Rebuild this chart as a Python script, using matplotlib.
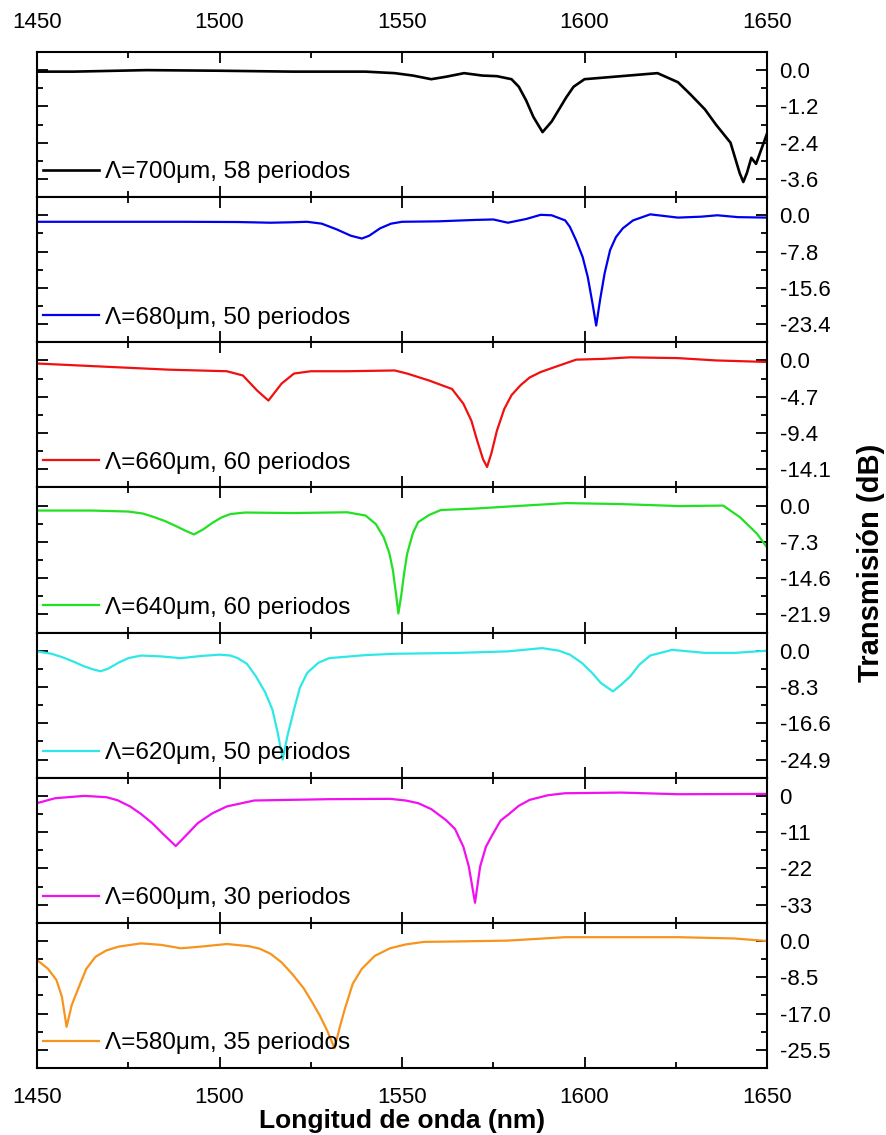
import matplotlib
matplotlib.use('Agg')
import matplotlib.pyplot as plt
from matplotlib.ticker import MultipleLocator, FixedLocator

plt.rcParams['font.family'] = ['Liberation Sans', 'DejaVu Sans']

# datos (longitud de onda en nm, transmision en dB)
wl_700 = [1450, 1460, 1480, 1500, 1520, 1540, 1548, 1553, 1558, 1562, 1567, 1572, 1576, 1580, 1582,
          1584, 1586, 1588.5, 1591, 1593, 1595, 1597, 1600, 1605, 1610, 1615, 1620, 1625.6, 1629,
          1633, 1636, 1640, 1641.5, 1642.5, 1643.5, 1644.5, 1645.7, 1647, 1648.5, 1650]
db_700 = [-0.05, -0.05, 0.0, -0.02, -0.05, -0.05, -0.1, -0.18, -0.3, -0.22, -0.1, -0.18, -0.2, -0.3, -0.55,
          -1.0, -1.55, -2.05, -1.7, -1.3, -0.9, -0.55, -0.3, -0.25, -0.2, -0.15, -0.1, -0.4, -0.8,
          -1.3, -1.8, -2.4, -3.0, -3.4, -3.7, -3.4, -2.9, -3.1, -2.6, -2.1]

wl_680 = [1450, 1470, 1490, 1505, 1514, 1520, 1524, 1528, 1532, 1536, 1539, 1541, 1544, 1547, 1550,
          1560, 1570, 1575, 1579, 1584, 1588, 1591, 1594.7, 1596, 1597.7, 1599.5, 1600.9, 1602.2, 1603.2,
          1604.3, 1605.5, 1607, 1608.6, 1610.5, 1613.3, 1618, 1625.6, 1632, 1636.4, 1642, 1650]
db_680 = [-1.4, -1.4, -1.4, -1.45, -1.6, -1.5, -1.4, -1.8, -3.0, -4.4, -5.0, -4.4, -2.8, -1.8, -1.4,
          -1.3, -1.0, -0.9, -1.6, -0.8, 0.1, 0.0, -1.1, -2.5, -5.4, -9.0, -13.3, -19.0, -23.7,
          -18.0, -12.5, -7.5, -4.7, -2.8, -1.1, 0.2, -0.5, -0.3, 0.0, -0.4, -0.5]

wl_660 = [1450, 1470.8, 1486.3, 1502, 1506.4, 1510.3, 1513.4, 1517, 1520.4, 1525, 1535, 1548, 1551.4,
          1557.4, 1563.7, 1566.8, 1569, 1570.6, 1572.2, 1573.3, 1574.5, 1576, 1578, 1580, 1582.5, 1585,
          1588, 1591.6, 1597.7, 1605, 1612.5, 1625.6, 1636, 1650]
db_660 = [-0.4, -0.86, -1.2, -1.4, -1.95, -3.9, -5.2, -3.0, -1.7, -1.4, -1.4, -1.3, -1.7,
          -2.6, -3.7, -5.6, -7.8, -10.4, -12.8, -13.8, -12.0, -9.1, -6.3, -4.5, -3.2, -2.2,
          -1.5, -0.9, 0.1, 0.2, 0.4, 0.3, 0.0, -0.2]

wl_640 = [1450, 1465, 1475, 1479, 1482, 1485, 1488, 1490.5, 1493, 1495.5, 1498, 1500.5, 1503, 1507,
          1520, 1535, 1540, 1542.8, 1545, 1546.5, 1547.5, 1548.4, 1549, 1549.8, 1550.6, 1551.4, 1553,
          1554.4, 1557.4, 1560.6, 1570, 1579, 1595, 1610, 1626, 1638, 1642.6, 1647.3, 1650]
db_640 = [-1.0, -1.0, -1.2, -1.6, -2.3, -3.1, -4.1, -5.0, -5.8, -4.8, -3.5, -2.4, -1.7, -1.4,
          -1.5, -1.35, -2.0, -3.7, -6.4, -9.5, -13.0, -18.0, -21.7, -18.0, -13.5, -9.7, -5.5,
          -3.35, -1.9, -0.9, -0.6, -0.2, 0.5, 0.3, -0.1, 0.0, -2.35, -5.7, -8.4]

wl_620 = [1450, 1454, 1457, 1460, 1463, 1465.5, 1467.4, 1469.5, 1472.4, 1475, 1478.5, 1484, 1489.4,
          1495, 1500, 1503, 1505, 1507.5, 1510, 1512.5, 1514.5, 1516, 1517.3, 1518.6, 1520.4, 1522,
          1524, 1527, 1530, 1540, 1548, 1565, 1579, 1588.4, 1593, 1596, 1599.3, 1602, 1604.5, 1607.8,
          1610, 1612.5, 1615, 1618, 1624, 1633, 1641, 1650]
db_620 = [-0.15, -0.7, -1.5, -2.5, -3.6, -4.3, -4.7, -4.1, -2.7, -1.7, -1.1, -1.3, -1.7,
          -1.2, -0.9, -1.1, -1.7, -3.0, -5.9, -9.5, -13.5, -19.0, -24.9, -19.5, -13.5, -8.5,
          -5.1, -2.8, -1.7, -1.0, -0.7, -0.5, -0.15, 0.6, 0.0, -0.9, -2.8, -5.0, -7.4, -9.3,
          -7.8, -5.9, -3.2, -1.1, 0.2, -0.5, -0.5, 0.0]

wl_600 = [1450, 1455, 1463, 1469, 1472, 1475.5, 1478.5, 1481.6, 1484.5, 1488, 1491, 1494, 1498, 1502,
          1509.5, 1530, 1546.7, 1551, 1554.4, 1558, 1562, 1564.5, 1566.8, 1568.3, 1570, 1571.4, 1573,
          1574.5, 1577, 1579.2, 1582, 1585, 1590, 1594.7, 1610, 1625.6, 1650]
db_600 = [-2.2, -0.7, 0.0, -0.4, -1.3, -3.2, -5.5, -8.3, -11.5, -15.2, -11.8, -8.3, -5.3, -3.2,
          -1.4, -1.0, -0.9, -1.4, -2.2, -4.0, -7.3, -10.0, -15.4, -21.4, -32.4, -21.4, -15.4,
          -12.3, -7.5, -5.6, -3.0, -1.2, 0.2, 0.8, 1.0, 0.5, 0.6]

wl_580 = [1450, 1453, 1455.3, 1456.8, 1458.1, 1459.5, 1461.5, 1463.5, 1466, 1469, 1472.4, 1478.5,
          1484, 1489.4, 1495, 1502, 1508, 1511, 1514, 1517, 1520, 1523, 1525.5, 1527.5, 1529.5,
          1531.5, 1533, 1534.3, 1536.5, 1539, 1542.5, 1546.7, 1551, 1556, 1565, 1579, 1594.7,
          1625.6, 1641, 1650]
db_580 = [-4.45, -6.5, -9.1, -13.0, -20.1, -15.0, -10.7, -6.5, -3.7, -2.2, -1.3, -0.55,
          -0.9, -1.7, -1.3, -0.7, -1.2, -1.8, -3.0, -5.0, -7.8, -11.0, -14.5, -17.5, -21.0,
          -25.1, -20.0, -16.0, -10.0, -6.5, -3.5, -1.7, -0.8, -0.2, -0.1, 0.1, 0.9,
          0.9, 0.6, 0.0]

labels = ['Λ=700μm, 58 periodos', 'Λ=680μm, 50 periodos', 'Λ=660μm, 60 periodos',
          'Λ=640μm, 60 periodos', 'Λ=620μm, 50 periodos', 'Λ=600μm, 30 periodos',
          'Λ=580μm, 35 periodos']
colors = ['#000000', '#0000f0', '#f01010', '#22e022', '#2ee8e8', '#f010f0', '#f7941d']
steps = [1.2, 7.8, 4.7, 7.3, 8.3, 11, 8.5]
tick_labels = [['0.0', '-1.2', '-2.4', '-3.6'],
               ['0.0', '-7.8', '-15.6', '-23.4'],
               ['0.0', '-4.7', '-9.4', '-14.1'],
               ['0.0', '-7.3', '-14.6', '-21.9'],
               ['0.0', '-8.3', '-16.6', '-24.9'],
               ['0', '-11', '-22', '-33'],
               ['0.0', '-8.5', '-17.0', '-25.5']]

series = [(wl_700, db_700), (wl_680, db_680), (wl_660, db_660), (wl_640, db_640),
          (wl_620, db_620), (wl_600, db_600), (wl_580, db_580)]

fig, axes = plt.subplots(7, 1, sharex=True, figsize=(8.86, 11.35), dpi=100)
plt.subplots_adjust(left=0.0418, right=0.8657, top=0.9542, bottom=0.059, hspace=0)

for i, ax in enumerate(axes):
    wl, db = series[i]
    d = steps[i]
    ax.plot(wl, db, color=colors[i], lw=1.6 if i else 1.9, label=labels[i])
    ax.set_xlim(1450, 1650)
    ax.set_ylim(-3.5 * d, 0.5 * d)
    ax.yaxis.set_major_locator(FixedLocator([0, -d, -2 * d, -3 * d]))
    ax.set_yticklabels(tick_labels[i])
    ax.yaxis.set_minor_locator(MultipleLocator(d / 2))
    ax.xaxis.set_major_locator(MultipleLocator(50))
    ax.xaxis.set_minor_locator(MultipleLocator(25))
    ax.tick_params(which='both', direction='in', left=True, right=True, top=True, bottom=True,
                   labelleft=False, labelright=True, width=1.3)
    ax.tick_params(which='major', length=8, labelsize=16)
    ax.tick_params(which='minor', length=4.5)
    ax.tick_params(axis='y', pad=9)
    ax.tick_params(axis='x', pad=13.5)
    for s in ax.spines.values():
        s.set_linewidth(1.5)
    ax.legend(loc='center left', bbox_to_anchor=(0.008, 0.17), frameon=False, fontsize=17.5,
              handlelength=2.3, handletextpad=0.25, borderpad=0, borderaxespad=0)

axes[0].tick_params(labeltop=True)
axes[-1].tick_params(labelbottom=True)

fig.text(0.4537, 1 - 1121 / 1135, 'Longitud de onda (nm)', ha='center', va='center',
         fontsize=19, fontweight='bold')
fig.text(0.983, 1 - 563 / 1135, 'Transmisión (dB)', ha='center', va='center', rotation=90,
         fontsize=21, fontweight='bold')

plt.savefig('out.png', dpi=100)
plt.close()
